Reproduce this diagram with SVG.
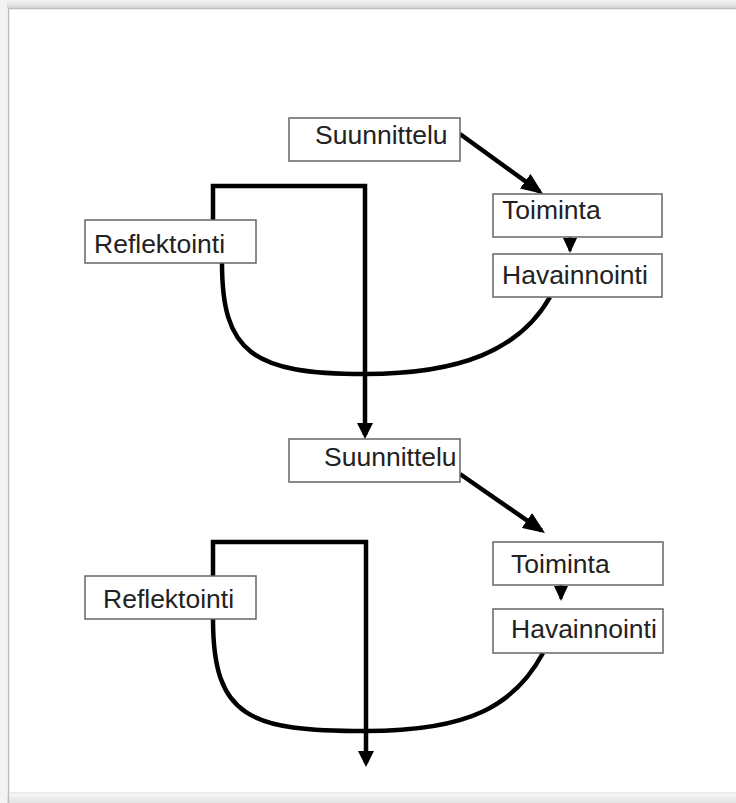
<svg xmlns="http://www.w3.org/2000/svg" width="736" height="803" viewBox="0 0 736 803">
<defs>
<style>
.box{fill:#fff;stroke:#666;stroke-width:1.5}
.lbl{font-family:"Liberation Sans",Arial,sans-serif;font-size:26.5px;fill:#222}
.ln{fill:none;stroke:#000;stroke-width:4.5}
.sm{stroke-width:3}
</style>
<marker id="ah" markerUnits="userSpaceOnUse" markerWidth="22" markerHeight="18" refX="18" refY="9" orient="auto" viewBox="0 0 22 18">
<path d="M0,0 L22,9 L0,18 Z" fill="#000"/>
</marker>
<marker id="ahv" markerUnits="userSpaceOnUse" markerWidth="16" markerHeight="16" refX="12" refY="8" orient="auto" viewBox="0 0 16 16">
<path d="M0,0 L16,8 L0,16 Z" fill="#000"/>
</marker>
<marker id="ahs" markerUnits="userSpaceOnUse" markerWidth="15" markerHeight="14" refX="13" refY="7" orient="auto" viewBox="0 0 15 14">
<path d="M0,0 L15,7 L0,14 Z" fill="#000"/>
</marker>
<linearGradient id="topg" x1="0" y1="0" x2="0" y2="1">
<stop offset="0" stop-color="#f4f4f4"/>
<stop offset="1" stop-color="#d8d8d8"/>
</linearGradient>
<linearGradient id="botg" x1="0" y1="0" x2="0" y2="1">
<stop offset="0" stop-color="#fafafa"/>
<stop offset="1" stop-color="#e2e2e2"/>
</linearGradient>
</defs>
<rect width="736" height="803" fill="#fff"/>
<g id="frame">
<rect x="0" y="0" width="736" height="8" fill="url(#topg)"/>
<rect x="0" y="793" width="736" height="10" fill="url(#botg)"/>
<rect x="0" y="0" width="7" height="803" fill="#f3f3f3"/>
<path d="M8.5,803 V8.5 H736" fill="none" stroke="#bdbdbd" stroke-width="1.5"/>
<path d="M10,793 H736" fill="none" stroke="#ececec" stroke-width="2"/>
</g>
<g id="connectors">
<path class="ln" d="M213,220 V186 H365 V435" marker-end="url(#ahv)"/>
<path class="ln" d="M222,263 C222,352 252,374 365,374 C460,374 520,350 550,297"/>
<path class="ln" d="M460,134 L539.8,191.7" marker-end="url(#ah)"/>
<path class="ln sm" d="M570,237 V251" marker-end="url(#ahs)"/>
<path class="ln" d="M213,576 V542 H366 V763" marker-end="url(#ahv)"/>
<path class="ln" d="M213,619 C213,718 250,731 366,731 C470,731 515,705 543,653"/>
<path class="ln" d="M460,474 L541.7,530.7" marker-end="url(#ah)"/>
<path class="ln sm" d="M561,585 V599" marker-end="url(#ahs)"/>
</g>
<g id="suunnittelu1"><rect class="box" x="289" y="118" width="171" height="43"/><text class="lbl" x="315" y="144">Suunnittelu</text></g>
<g id="toiminta1"><rect class="box" x="493" y="194" width="169" height="43"/><text class="lbl" x="502" y="219">Toiminta</text></g>
<g id="havainnointi1"><rect class="box" x="493" y="254" width="169" height="43"/><text class="lbl" x="502" y="284">Havainnointi</text></g>
<g id="reflektointi1"><rect class="box" x="85" y="220" width="171" height="43"/><text class="lbl" x="94" y="253">Reflektointi</text></g>
<g id="suunnittelu2"><rect class="box" x="289" y="439" width="171" height="43"/><text class="lbl" x="324" y="466">Suunnittelu</text></g>
<g id="toiminta2"><rect class="box" x="493" y="542" width="170" height="43"/><text class="lbl" x="511" y="573">Toiminta</text></g>
<g id="havainnointi2"><rect class="box" x="493" y="609" width="170" height="44"/><text class="lbl" x="511" y="638">Havainnointi</text></g>
<g id="reflektointi2"><rect class="box" x="85" y="576" width="171" height="43"/><text class="lbl" x="103" y="608">Reflektointi</text></g>
</svg>
